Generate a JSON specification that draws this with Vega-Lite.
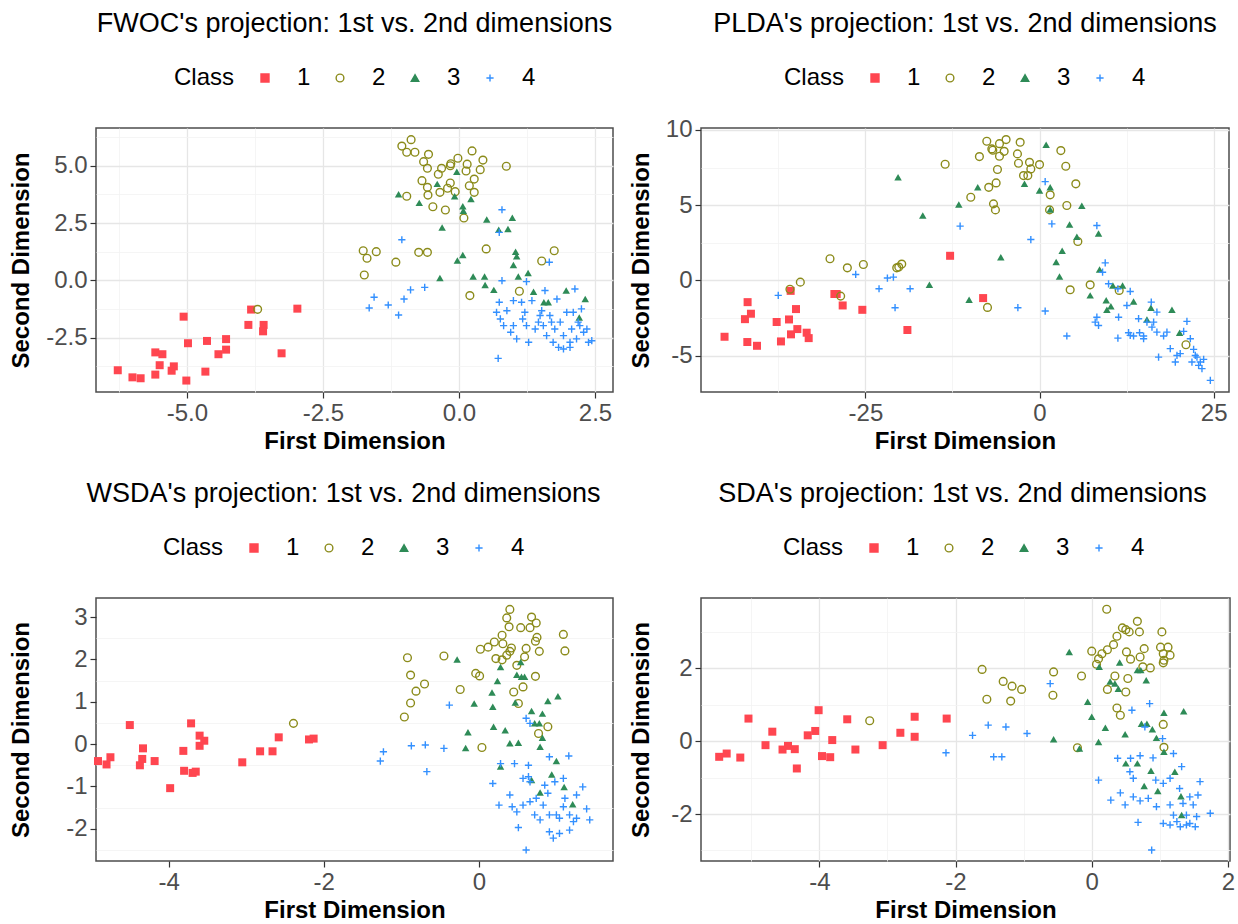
{
  "$schema": "https://vega.github.io/schema/vega-lite/v6.json",
  "background": "white",
  "padding": {"left": 8, "top": 9, "right": 0, "bottom": 0},
  "columns": 2,
  "spacing": {"row": 25, "column": 14},
  "config": {
    "font": "Liberation Sans",
    "view": {"stroke": "#4d4d4d", "strokeWidth": 1.5},
    "title": {"fontSize": 27, "fontWeight": "normal", "color": "#000000", "anchor": "middle", "frame": "group", "offset": 28},
    "axis": {"labelFontSize": 24, "labelColor": "#4d4d4d", "titleFontSize": 24, "titleFontWeight": "bold", "titleColor": "#000000", "tickColor": "#333333", "tickSize": 6, "tickWidth": 1.2, "domain": false, "labelPadding": 3, "labelFlush": false, "labelOverlap": false},
    "axisX": {"titlePadding": 4},
    "axisY": {"titlePadding": 8},
    "legend": {"direction": "horizontal", "titleOrient": "left", "titleFontSize": 24, "titleFontWeight": "normal", "titleColor": "#000000", "labelFontSize": 24, "labelColor": "#000000", "titlePadding": 18, "labelOffset": 20, "columnPadding": 17, "symbolSize": 60, "symbolStrokeWidth": 1.4}
  },
  "resolve": {
    "scale": {"color": "independent", "shape": "independent", "size": "independent"},
    "legend": {"color": "independent", "shape": "independent"}
  },
  "datasets": {
    "fwoc": [
      {"Class":1,"x":-6.27,"y":-3.93},{"Class":1,"x":-6.0,"y":-4.24},{"Class":1,"x":-5.85,"y":-4.28},{"Class":1,"x":-5.58,"y":-4.12},{"Class":1,"x":-5.58,"y":-3.15},{"Class":1,"x":-5.45,"y":-3.23},{"Class":1,"x":-5.5,"y":-3.71},{"Class":1,"x":-5.28,"y":-3.95},{"Class":1,"x":-5.24,"y":-3.76},{"Class":1,"x":-5.06,"y":-1.59},{"Class":1,"x":-4.98,"y":-2.75},{"Class":1,"x":-5.01,"y":-4.38},{"Class":1,"x":-4.66,"y":-3.99},{"Class":1,"x":-4.63,"y":-2.65},{"Class":1,"x":-4.42,"y":-3.23},{"Class":1,"x":-4.28,"y":-3.03},{"Class":1,"x":-4.28,"y":-2.57},{"Class":1,"x":-3.87,"y":-1.95},{"Class":1,"x":-3.82,"y":-1.28},{"Class":1,"x":-3.59,"y":-1.95},{"Class":1,"x":-3.6,"y":-2.23},{"Class":1,"x":-3.26,"y":-3.19},{"Class":1,"x":-2.97,"y":-1.24},
      {"Class":2,"x":-0.88,"y":6.14},{"Class":2,"x":-1.05,"y":5.86},{"Class":2,"x":-0.96,"y":5.59},{"Class":2,"x":-0.81,"y":5.59},{"Class":2,"x":-0.56,"y":5.5},{"Class":2,"x":-0.65,"y":5.18},{"Class":2,"x":-0.58,"y":4.89},{"Class":2,"x":-0.15,"y":5.09},{"Class":2,"x":-0.16,"y":5.0},{"Class":2,"x":-0.02,"y":5.33},{"Class":2,"x":0.15,"y":5.07},{"Class":2,"x":0.13,"y":4.77},{"Class":2,"x":0.24,"y":5.65},{"Class":2,"x":0.44,"y":5.25},{"Class":2,"x":0.39,"y":4.83},{"Class":2,"x":0.87,"y":4.98},{"Class":2,"x":-0.32,"y":4.89},{"Class":2,"x":-0.38,"y":4.63},{"Class":2,"x":-0.68,"y":4.35},{"Class":2,"x":-0.58,"y":4.06},{"Class":2,"x":-0.35,"y":3.84},{"Class":2,"x":-0.57,"y":3.72},{"Class":2,"x":-0.16,"y":4.25},{"Class":2,"x":-0.21,"y":4.02},{"Class":2,"x":-0.07,"y":3.87},{"Class":2,"x":0.19,"y":4.13},{"Class":2,"x":0.28,"y":4.42},{"Class":2,"x":0.28,"y":3.84},{"Class":2,"x":-0.96,"y":3.67},{"Class":2,"x":-0.48,"y":3.21},{"Class":2,"x":-0.25,"y":3.07},{"Class":2,"x":0.09,"y":2.72},{"Class":2,"x":-1.76,"y":1.29},{"Class":2,"x":-1.69,"y":0.96},{"Class":2,"x":-1.52,"y":1.25},{"Class":2,"x":-1.16,"y":0.79},{"Class":2,"x":-0.74,"y":1.22},{"Class":2,"x":-0.58,"y":1.22},{"Class":2,"x":0.5,"y":1.37},{"Class":2,"x":1.52,"y":0.84},{"Class":2,"x":1.75,"y":1.29},{"Class":2,"x":-1.74,"y":0.23},{"Class":2,"x":0.2,"y":-0.67},{"Class":2,"x":1.11,"y":-0.48},{"Class":2,"x":-3.7,"y":-1.27},
      {"Class":3,"x":-1.11,"y":3.76},{"Class":3,"x":-0.73,"y":3.38},{"Class":3,"x":-0.4,"y":4.21},{"Class":3,"x":-0.04,"y":4.74},{"Class":3,"x":-0.08,"y":3.67},{"Class":3,"x":0.22,"y":3.55},{"Class":3,"x":0.07,"y":3.23},{"Class":3,"x":0.08,"y":3.04},{"Class":3,"x":-0.31,"y":2.3},{"Class":3,"x":0.51,"y":2.65},{"Class":3,"x":0.98,"y":2.73},{"Class":3,"x":0.73,"y":2.21},{"Class":3,"x":0.9,"y":2.24},{"Class":3,"x":0.07,"y":1.1},{"Class":3,"x":-0.03,"y":0.86},{"Class":3,"x":-0.35,"y":0.1},{"Class":3,"x":0.26,"y":0.16},{"Class":3,"x":0.47,"y":0.16},{"Class":3,"x":0.48,"y":-0.21},{"Class":3,"x":0.64,"y":-0.42},{"Class":3,"x":1.04,"y":1.25},{"Class":3,"x":1.06,"y":1.05},{"Class":3,"x":1.0,"y":0.67},{"Class":3,"x":1.09,"y":0.16},{"Class":3,"x":1.27,"y":0.32},{"Class":3,"x":1.37,"y":-0.5},{"Class":3,"x":1.56,"y":-0.96},{"Class":3,"x":1.64,"y":-0.96},{"Class":3,"x":1.97,"y":-0.45},{"Class":3,"x":2.32,"y":-0.82},{"Class":3,"x":2.21,"y":-1.63},
      {"Class":4,"x":0.79,"y":3.08},{"Class":4,"x":-1.05,"y":1.77},{"Class":4,"x":0.74,"y":2.09},{"Class":4,"x":1.66,"y":0.79},{"Class":4,"x":-1.56,"y":-0.74},{"Class":4,"x":-1.65,"y":-1.21},{"Class":4,"x":-1.3,"y":-1.08},{"Class":4,"x":-1.11,"y":-1.52},{"Class":4,"x":-1.01,"y":-0.82},{"Class":4,"x":-0.89,"y":-0.42},{"Class":4,"x":-0.63,"y":-0.31},{"Class":4,"x":0.79,"y":-0.02},{"Class":4,"x":1.24,"y":-0.06},{"Class":4,"x":0.72,"y":-3.41},
      {"Class":4,"x":0.69,"y":-1.4},{"Class":4,"x":0.74,"y":-0.96},{"Class":4,"x":0.82,"y":-1.98},{"Class":4,"x":0.88,"y":-1.33},{"Class":4,"x":0.95,"y":-2.27},{"Class":4,"x":1.0,"y":-0.89},{"Class":4,"x":1.06,"y":-2.56},{"Class":4,"x":1.15,"y":-0.96},{"Class":4,"x":1.17,"y":-1.69},{"Class":4,"x":1.21,"y":-1.4},{"Class":4,"x":1.28,"y":-2.71},{"Class":4,"x":1.34,"y":-0.89},{"Class":4,"x":1.4,"y":-2.13},{"Class":4,"x":1.46,"y":-1.83},{"Class":4,"x":1.52,"y":-1.33},{"Class":4,"x":1.58,"y":-0.45},{"Class":4,"x":1.61,"y":-2.42},{"Class":4,"x":1.67,"y":-1.54},{"Class":4,"x":1.73,"y":-2.71},{"Class":4,"x":1.76,"y":-2.13},{"Class":4,"x":1.8,"y":-0.82},{"Class":4,"x":1.83,"y":-2.93},{"Class":4,"x":1.86,"y":-1.83},{"Class":4,"x":1.92,"y":-2.42},{"Class":4,"x":1.98,"y":-1.4},{"Class":4,"x":2.04,"y":-2.71},{"Class":4,"x":2.07,"y":-2.13},{"Class":4,"x":2.1,"y":-1.4},{"Class":4,"x":2.13,"y":-0.38},{"Class":4,"x":2.16,"y":-2.56},{"Class":4,"x":2.22,"y":-1.98},{"Class":4,"x":2.25,"y":-1.25},{"Class":4,"x":2.29,"y":-2.27},{"Class":4,"x":2.35,"y":-2.13},{"Class":4,"x":2.38,"y":-2.71},{"Class":4,"x":2.44,"y":-2.64},{"Class":4,"x":1.92,"y":-3.0},{"Class":4,"x":2.04,"y":-2.93},{"Class":4,"x":1.49,"y":-1.54},{"Class":4,"x":1.55,"y":-1.98},{"Class":4,"x":1.24,"y":-1.98},{"Class":4,"x":1.0,"y":-1.98},{"Class":4,"x":1.7,"y":-1.83},{"Class":4,"x":2.19,"y":-1.83},{"Class":4,"x":0.76,"y":-1.69}
    ],
    "plda": [
      {"Class":1,"x":-45.22,"y":-3.74},{"Class":1,"x":-41.91,"y":-1.44},{"Class":1,"x":-41.43,"y":-2.21},{"Class":1,"x":-42.29,"y":-2.57},{"Class":1,"x":-41.95,"y":-4.09},{"Class":1,"x":-40.56,"y":-4.34},{"Class":1,"x":-37.74,"y":-2.76},{"Class":1,"x":-35.97,"y":-2.59},{"Class":1,"x":-34.96,"y":-1.9},{"Class":1,"x":-35.73,"y":-0.69},{"Class":1,"x":-37.12,"y":-4.05},{"Class":1,"x":-35.68,"y":-3.58},{"Class":1,"x":-34.77,"y":-3.23},{"Class":1,"x":-33.43,"y":-3.47},{"Class":1,"x":-33.14,"y":-3.83},{"Class":1,"x":-29.45,"y":-0.9},{"Class":1,"x":-29.12,"y":-0.9},{"Class":1,"x":-28.26,"y":-1.66},{"Class":1,"x":-25.44,"y":-1.95},{"Class":1,"x":-18.97,"y":-3.29},{"Class":1,"x":-12.84,"y":1.64},{"Class":1,"x":-8.1,"y":-1.17},
      {"Class":2,"x":-13.55,"y":7.72},{"Class":2,"x":-30.08,"y":1.44},{"Class":2,"x":-27.59,"y":0.84},{"Class":2,"x":-25.29,"y":1.06},{"Class":2,"x":-35.83,"y":-0.58},{"Class":2,"x":-34.34,"y":-0.11},{"Class":2,"x":-28.55,"y":-1.04},{"Class":2,"x":-20.5,"y":0.84},{"Class":2,"x":-19.78,"y":1.09},{"Class":2,"x":-20.21,"y":0.89},{"Class":2,"x":-7.57,"y":9.25},{"Class":2,"x":-6.85,"y":8.74},{"Class":2,"x":-5.75,"y":9.09},{"Class":2,"x":-4.8,"y":9.36},{"Class":2,"x":-2.78,"y":9.18},{"Class":2,"x":-5.08,"y":8.58},{"Class":2,"x":-5.75,"y":8.25},{"Class":2,"x":-8.63,"y":8.23},{"Class":2,"x":-6.71,"y":8.65},{"Class":2,"x":-3.17,"y":8.41},{"Class":2,"x":-3.02,"y":7.79},{"Class":2,"x":-1.44,"y":7.85},{"Class":2,"x":0.0,"y":7.7},{"Class":2,"x":-1.25,"y":7.41},{"Class":2,"x":-2.3,"y":6.97},{"Class":2,"x":-1.68,"y":6.97},{"Class":2,"x":-6.04,"y":7.37},{"Class":2,"x":-6.23,"y":6.48},{"Class":2,"x":-7.29,"y":6.19},{"Class":2,"x":-9.87,"y":5.53},{"Class":2,"x":-6.61,"y":5.09},{"Class":2,"x":-6.33,"y":4.69},{"Class":2,"x":1.53,"y":5.69},{"Class":2,"x":3.06,"y":8.63},{"Class":2,"x":3.77,"y":7.59},{"Class":2,"x":5.21,"y":6.42},{"Class":2,"x":3.92,"y":4.98},{"Class":2,"x":5.5,"y":2.59},{"Class":2,"x":7.27,"y":-0.29},{"Class":2,"x":4.4,"y":-0.62},{"Class":2,"x":-7.47,"y":-1.79},{"Class":2,"x":1.44,"y":4.69},{"Class":2,"x":11.44,"y":-0.66},{"Class":2,"x":21.02,"y":-4.27},
      {"Class":3,"x":-20.31,"y":6.86},{"Class":3,"x":-16.76,"y":4.31},{"Class":3,"x":-11.59,"y":5.04},{"Class":3,"x":-15.81,"y":-0.29},{"Class":3,"x":0.95,"y":9.02},{"Class":3,"x":-8.87,"y":6.19},{"Class":3,"x":-2.16,"y":6.42},{"Class":3,"x":0.0,"y":5.97},{"Class":3,"x":1.53,"y":6.19},{"Class":3,"x":1.53,"y":4.71},{"Class":3,"x":6.07,"y":4.96},{"Class":3,"x":4.31,"y":3.72},{"Class":3,"x":5.36,"y":2.9},{"Class":3,"x":8.47,"y":3.12},{"Class":3,"x":-5.56,"y":1.55},{"Class":3,"x":3.25,"y":1.97},{"Class":3,"x":2.39,"y":1.22},{"Class":3,"x":2.87,"y":0.27},{"Class":3,"x":8.62,"y":0.73},{"Class":3,"x":7.27,"y":-0.99},{"Class":3,"x":-10.11,"y":-1.28},{"Class":3,"x":10.53,"y":-0.33},{"Class":3,"x":11.92,"y":-0.33},{"Class":3,"x":9.57,"y":-1.32},{"Class":3,"x":9.67,"y":-1.95},{"Class":3,"x":10.24,"y":-1.72},{"Class":3,"x":13.5,"y":-1.39},{"Class":3,"x":15.99,"y":-1.81},{"Class":3,"x":15.42,"y":-2.59},{"Class":3,"x":19.01,"y":-1.95},{"Class":3,"x":20.11,"y":-3.47},
      {"Class":4,"x":-37.51,"y":-0.99},{"Class":4,"x":-26.39,"y":0.4},{"Class":4,"x":-23.04,"y":-0.55},{"Class":4,"x":-21.84,"y":0.16},{"Class":4,"x":-20.98,"y":0.22},{"Class":4,"x":-20.74,"y":-1.81},{"Class":4,"x":-18.58,"y":-0.55},{"Class":4,"x":-11.4,"y":3.61},{"Class":4,"x":0.81,"y":6.57},{"Class":4,"x":1.77,"y":3.76},{"Class":4,"x":-1.25,"y":2.72},{"Class":4,"x":-3.11,"y":-1.81},{"Class":4,"x":0.81,"y":-2.03},{"Class":4,"x":3.92,"y":-3.69},{"Class":4,"x":8.23,"y":3.65},{"Class":4,"x":9.43,"y":1.17},{"Class":4,"x":9.05,"y":0.55},{"Class":4,"x":9.91,"y":-0.22},{"Class":4,"x":11.25,"y":-0.55},{"Class":4,"x":13.02,"y":-0.73},{"Class":4,"x":12.54,"y":-1.66},{"Class":4,"x":11.35,"y":-2.44},{"Class":4,"x":8.23,"y":-2.44},{"Class":4,"x":7.99,"y":-2.77},{"Class":4,"x":8.47,"y":-2.99},{"Class":4,"x":11.25,"y":-3.83},{"Class":4,"x":12.78,"y":-3.47},{"Class":4,"x":13.5,"y":-3.69},{"Class":4,"x":14.36,"y":-3.47},{"Class":4,"x":14.94,"y":-3.69},{"Class":4,"x":14.22,"y":-2.54},{"Class":4,"x":16.04,"y":-1.44},{"Class":4,"x":16.85,"y":-2.1},{"Class":4,"x":16.14,"y":-3.1},{"Class":4,"x":16.85,"y":-3.43},{"Class":4,"x":17.81,"y":-3.69},{"Class":4,"x":18.77,"y":-4.53},{"Class":4,"x":17.09,"y":-5.09},{"Class":4,"x":19.73,"y":-4.98},{"Class":4,"x":19.49,"y":-5.42},{"Class":4,"x":21.16,"y":-2.72},{"Class":4,"x":21.65,"y":-3.87},{"Class":4,"x":20.69,"y":-3.38},{"Class":4,"x":22.12,"y":-4.58},{"Class":4,"x":22.6,"y":-5.09},{"Class":4,"x":23.08,"y":-5.42},{"Class":4,"x":23.56,"y":-5.24},{"Class":4,"x":23.32,"y":-5.86},{"Class":4,"x":22.36,"y":-4.98},{"Class":4,"x":24.52,"y":-6.64},{"Class":4,"x":16.38,"y":-2.77},{"Class":4,"x":15.42,"y":-2.77},{"Class":4,"x":13.02,"y":-3.65},{"Class":4,"x":14.94,"y":-3.87},{"Class":4,"x":18.29,"y":-3.43},{"Class":4,"x":20.2,"y":-4.86},{"Class":4,"x":21.88,"y":-5.42},{"Class":4,"x":22.84,"y":-5.64}
    ],
    "wsda": [
      {"Class":1,"x":-4.91,"y":-0.4},{"Class":1,"x":-4.8,"y":-0.48},{"Class":1,"x":-4.75,"y":-0.31},{"Class":1,"x":-4.5,"y":0.45},{"Class":1,"x":-4.37,"y":-0.5},{"Class":1,"x":-4.34,"y":-0.35},{"Class":1,"x":-4.33,"y":-0.1},{"Class":1,"x":-4.18,"y":-0.4},{"Class":1,"x":-3.98,"y":-1.04},{"Class":1,"x":-3.81,"y":-0.16},{"Class":1,"x":-3.8,"y":-0.63},{"Class":1,"x":-3.71,"y":0.49},{"Class":1,"x":-3.69,"y":-0.68},{"Class":1,"x":-3.65,"y":-0.65},{"Class":1,"x":-3.6,"y":0.2},{"Class":1,"x":-3.6,"y":-0.04},{"Class":1,"x":-3.54,"y":0.08},{"Class":1,"x":-3.05,"y":-0.43},{"Class":1,"x":-2.82,"y":-0.17},{"Class":1,"x":-2.66,"y":-0.17},{"Class":1,"x":-2.58,"y":0.16},{"Class":1,"x":-2.19,"y":0.11},{"Class":1,"x":-2.13,"y":0.13},
      {"Class":2,"x":-2.39,"y":0.49},{"Class":2,"x":0.4,"y":3.18},{"Class":2,"x":0.36,"y":2.98},{"Class":2,"x":0.68,"y":3.0},{"Class":2,"x":0.74,"y":2.86},{"Class":2,"x":0.39,"y":2.77},{"Class":2,"x":0.54,"y":2.75},{"Class":2,"x":0.66,"y":2.75},{"Class":2,"x":0.3,"y":2.57},{"Class":2,"x":0.2,"y":2.41},{"Class":2,"x":0.31,"y":2.37},{"Class":2,"x":0.12,"y":2.29},{"Class":2,"x":0.02,"y":2.24},{"Class":2,"x":0.42,"y":2.27},{"Class":2,"x":0.4,"y":2.19},{"Class":2,"x":0.61,"y":2.26},{"Class":2,"x":0.36,"y":2.1},{"Class":2,"x":0.22,"y":2.02},{"Class":2,"x":0.3,"y":1.99},{"Class":2,"x":0.59,"y":2.06},{"Class":2,"x":0.78,"y":2.19},{"Class":2,"x":0.75,"y":2.52},{"Class":2,"x":0.73,"y":2.43},{"Class":2,"x":1.09,"y":2.59},{"Class":2,"x":1.11,"y":2.2},{"Class":2,"x":0.49,"y":1.86},{"Class":2,"x":-0.92,"y":2.04},{"Class":2,"x":-0.45,"y":2.08},{"Class":2,"x":-0.04,"y":1.67},{"Class":2,"x":0.01,"y":1.61},{"Class":2,"x":0.73,"y":1.6},{"Class":2,"x":0.57,"y":1.35},{"Class":2,"x":0.45,"y":1.23},{"Class":2,"x":0.51,"y":0.96},{"Class":2,"x":-0.88,"y":1.63},{"Class":2,"x":-0.7,"y":1.42},{"Class":2,"x":-0.81,"y":1.25},{"Class":2,"x":-0.88,"y":0.97},{"Class":2,"x":-0.96,"y":0.64},{"Class":2,"x":-0.24,"y":1.29},{"Class":2,"x":0.89,"y":0.41},{"Class":2,"x":0.77,"y":0.25},{"Class":2,"x":0.04,"y":-0.08},
      {"Class":3,"x":-0.28,"y":2.0},{"Class":3,"x":0.28,"y":1.82},{"Class":3,"x":0.49,"y":1.64},{"Class":3,"x":0.55,"y":1.59},{"Class":3,"x":0.59,"y":1.59},{"Class":3,"x":0.54,"y":1.94},{"Class":3,"x":0.24,"y":1.49},{"Class":3,"x":0.17,"y":1.22},{"Class":3,"x":-0.06,"y":0.96},{"Class":3,"x":0.18,"y":0.88},{"Class":3,"x":0.47,"y":0.98},{"Class":3,"x":0.68,"y":0.78},{"Class":3,"x":0.82,"y":0.72},{"Class":3,"x":0.89,"y":1.02},{"Class":3,"x":1.02,"y":1.13},{"Class":3,"x":0.72,"y":0.49},{"Class":3,"x":0.78,"y":0.49},{"Class":3,"x":-0.14,"y":0.28},{"Class":3,"x":-0.17,"y":-0.09},{"Class":3,"x":0.19,"y":0.41},{"Class":3,"x":0.34,"y":0.33},{"Class":3,"x":0.4,"y":0.02},{"Class":3,"x":0.51,"y":0.03},{"Class":3,"x":0.79,"y":-0.06},{"Class":3,"x":0.82,"y":0.15},{"Class":3,"x":1.0,"y":-0.4},{"Class":3,"x":0.28,"y":-0.53},{"Class":3,"x":0.94,"y":-0.72},{"Class":3,"x":0.68,"y":-0.85},{"Class":3,"x":1.1,"y":-1.01},{"Class":3,"x":0.79,"y":-1.14},{"Class":3,"x":1.21,"y":-1.42},
      {"Class":4,"x":-0.38,"y":0.92},{"Class":4,"x":-1.23,"y":-0.18},{"Class":4,"x":-1.27,"y":-0.4},{"Class":4,"x":-0.87,"y":-0.04},{"Class":4,"x":-0.69,"y":-0.02},{"Class":4,"x":-0.45,"y":-0.1},{"Class":4,"x":-0.67,"y":-0.65},{"Class":4,"x":0.61,"y":0.61},{"Class":4,"x":0.66,"y":0.49},{"Class":4,"x":0.91,"y":-0.3},{"Class":4,"x":1.16,"y":-0.28},{"Class":4,"x":0.28,"y":-0.46},{"Class":4,"x":0.46,"y":-0.46},{"Class":4,"x":0.64,"y":-0.5},{"Class":4,"x":0.18,"y":-0.93},{"Class":4,"x":0.57,"y":-0.81},{"Class":4,"x":0.64,"y":-0.77},{"Class":4,"x":0.66,"y":-0.89},{"Class":4,"x":0.4,"y":-1.2},{"Class":4,"x":0.26,"y":-1.44},{"Class":4,"x":0.43,"y":-1.48},{"Class":4,"x":0.49,"y":-1.6},{"Class":4,"x":0.57,"y":-1.44},{"Class":4,"x":0.74,"y":-1.28},{"Class":4,"x":0.85,"y":-0.97},{"Class":4,"x":0.98,"y":-0.89},{"Class":4,"x":1.09,"y":-0.81},{"Class":4,"x":1.34,"y":-1.01},{"Class":4,"x":0.83,"y":-1.44},{"Class":4,"x":0.72,"y":-1.67},{"Class":4,"x":0.79,"y":-1.79},{"Class":4,"x":0.91,"y":-1.67},{"Class":4,"x":1.0,"y":-1.67},{"Class":4,"x":1.09,"y":-1.48},{"Class":4,"x":1.17,"y":-1.67},{"Class":4,"x":1.26,"y":-1.75},{"Class":4,"x":1.39,"y":-1.53},{"Class":4,"x":1.43,"y":-1.79},{"Class":4,"x":0.51,"y":-1.97},{"Class":4,"x":0.91,"y":-2.07},{"Class":4,"x":1.04,"y":-2.11},{"Class":4,"x":1.17,"y":-2.03},{"Class":4,"x":1.22,"y":-1.83},{"Class":4,"x":0.96,"y":-2.22},{"Class":4,"x":0.61,"y":-2.5},{"Class":4,"x":1.11,"y":-1.28},{"Class":4,"x":1.26,"y":-1.2},{"Class":4,"x":1.04,"y":-1.75},{"Class":4,"x":0.66,"y":-1.36},{"Class":4,"x":0.89,"y":-1.16}
    ],
    "sda": [
      {"Class":1,"x":-5.47,"y":-0.43},{"Class":1,"x":-5.36,"y":-0.34},{"Class":1,"x":-5.16,"y":-0.45},{"Class":1,"x":-5.04,"y":0.62},{"Class":1,"x":-4.79,"y":-0.11},{"Class":1,"x":-4.69,"y":0.26},{"Class":1,"x":-4.54,"y":-0.23},{"Class":1,"x":-4.46,"y":-0.13},{"Class":1,"x":-4.36,"y":-0.22},{"Class":1,"x":-4.33,"y":-0.75},{"Class":1,"x":-4.17,"y":0.16},{"Class":1,"x":-4.06,"y":0.28},{"Class":1,"x":-4.01,"y":0.85},{"Class":1,"x":-3.96,"y":-0.41},{"Class":1,"x":-3.84,"y":-0.44},{"Class":1,"x":-3.81,"y":0.03},{"Class":1,"x":-3.59,"y":0.6},{"Class":1,"x":-3.47,"y":-0.23},{"Class":1,"x":-3.07,"y":-0.11},{"Class":1,"x":-2.81,"y":0.23},{"Class":1,"x":-2.6,"y":0.67},{"Class":1,"x":-2.6,"y":0.12},{"Class":1,"x":-2.13,"y":0.62},
      {"Class":2,"x":-3.26,"y":0.56},{"Class":2,"x":0.22,"y":3.62},{"Class":2,"x":0.67,"y":3.29},{"Class":2,"x":0.45,"y":3.11},{"Class":2,"x":0.55,"y":3.0},{"Class":2,"x":0.5,"y":3.06},{"Class":2,"x":0.7,"y":3.0},{"Class":2,"x":0.37,"y":2.88},{"Class":2,"x":0.32,"y":2.65},{"Class":2,"x":0.23,"y":2.51},{"Class":2,"x":0.15,"y":2.4},{"Class":2,"x":0.0,"y":2.47},{"Class":2,"x":0.1,"y":2.26},{"Class":2,"x":0.07,"y":2.11},{"Class":2,"x":0.51,"y":2.45},{"Class":2,"x":0.57,"y":2.25},{"Class":2,"x":0.71,"y":2.31},{"Class":2,"x":0.77,"y":2.54},{"Class":2,"x":1.03,"y":3.0},{"Class":2,"x":1.01,"y":2.58},{"Class":2,"x":1.12,"y":2.58},{"Class":2,"x":1.15,"y":2.36},{"Class":2,"x":1.05,"y":2.4},{"Class":2,"x":1.06,"y":2.22},{"Class":2,"x":1.05,"y":2.15},{"Class":2,"x":0.86,"y":2.01},{"Class":2,"x":0.75,"y":2.04},{"Class":2,"x":0.34,"y":1.79},{"Class":2,"x":0.53,"y":1.72},{"Class":2,"x":0.23,"y":1.42},{"Class":2,"x":0.5,"y":1.35},{"Class":2,"x":0.37,"y":0.91},{"Class":2,"x":0.42,"y":0.71},{"Class":2,"x":1.05,"y":0.46},{"Class":2,"x":1.06,"y":-0.17},{"Class":2,"x":-0.21,"y":-0.18},{"Class":2,"x":-1.61,"y":1.97},{"Class":2,"x":-0.56,"y":1.9},{"Class":2,"x":-0.15,"y":1.79},{"Class":2,"x":-1.3,"y":1.64},{"Class":2,"x":-1.17,"y":1.51},{"Class":2,"x":-1.03,"y":1.42},{"Class":2,"x":-1.54,"y":1.15},{"Class":2,"x":-1.19,"y":1.1},{"Class":2,"x":-0.57,"y":1.26},
      {"Class":3,"x":-0.33,"y":2.45},{"Class":3,"x":0.11,"y":2.04},{"Class":3,"x":0.41,"y":2.16},{"Class":3,"x":0.67,"y":1.95},{"Class":3,"x":0.72,"y":1.95},{"Class":3,"x":0.27,"y":1.64},{"Class":3,"x":0.34,"y":1.58},{"Class":3,"x":0.8,"y":1.67},{"Class":3,"x":0.39,"y":1.44},{"Class":3,"x":-0.06,"y":1.08},{"Class":3,"x":0.0,"y":0.67},{"Class":3,"x":0.2,"y":0.37},{"Class":3,"x":0.49,"y":0.19},{"Class":3,"x":0.73,"y":0.48},{"Class":3,"x":0.81,"y":0.48},{"Class":3,"x":0.89,"y":0.33},{"Class":3,"x":0.95,"y":0.09},{"Class":3,"x":1.06,"y":0.78},{"Class":3,"x":1.35,"y":0.82},{"Class":3,"x":-0.56,"y":0.05},{"Class":3,"x":-0.18,"y":-0.2},{"Class":3,"x":0.1,"y":-0.02},{"Class":3,"x":1.06,"y":-0.29},{"Class":3,"x":0.5,"y":-0.61},{"Class":3,"x":0.67,"y":-0.61},{"Class":3,"x":0.87,"y":-0.81},{"Class":3,"x":1.22,"y":-0.84},{"Class":3,"x":0.77,"y":-1.23},{"Class":3,"x":0.97,"y":-1.37},{"Class":3,"x":1.31,"y":-1.51},{"Class":3,"x":1.32,"y":-2.03},
      {"Class":4,"x":-2.14,"y":-0.32},{"Class":4,"x":-1.75,"y":0.16},{"Class":4,"x":-1.52,"y":0.44},{"Class":4,"x":-1.26,"y":0.39},{"Class":4,"x":-0.95,"y":0.21},{"Class":4,"x":-1.44,"y":-0.43},{"Class":4,"x":-1.32,"y":-0.43},{"Class":4,"x":-0.61,"y":1.58},{"Class":4,"x":0.59,"y":0.85},{"Class":4,"x":0.85,"y":1.03},{"Class":4,"x":0.78,"y":0.39},{"Class":4,"x":1.04,"y":0.07},{"Class":4,"x":0.38,"y":-0.47},{"Class":4,"x":0.57,"y":-0.47},{"Class":4,"x":0.71,"y":-0.4},{"Class":4,"x":0.9,"y":-0.46},{"Class":4,"x":1.2,"y":-0.34},{"Class":4,"x":1.32,"y":-0.7},{"Class":4,"x":0.56,"y":-0.84},{"Class":4,"x":0.61,"y":-1.02},{"Class":4,"x":0.1,"y":-1.07},{"Class":4,"x":0.42,"y":-1.42},{"Class":4,"x":0.28,"y":-1.62},{"Class":4,"x":0.49,"y":-1.75},{"Class":4,"x":0.61,"y":-1.53},{"Class":4,"x":0.71,"y":-1.64},{"Class":4,"x":0.83,"y":-1.57},{"Class":4,"x":0.95,"y":-1.8},{"Class":4,"x":0.94,"y":-1.07},{"Class":4,"x":1.05,"y":-1.16},{"Class":4,"x":1.15,"y":-1.02},{"Class":4,"x":1.29,"y":-1.3},{"Class":4,"x":1.15,"y":-1.75},{"Class":4,"x":1.34,"y":-1.71},{"Class":4,"x":1.44,"y":-1.53},{"Class":4,"x":1.59,"y":-1.11},{"Class":4,"x":1.56,"y":-1.48},{"Class":4,"x":1.49,"y":-1.75},{"Class":4,"x":1.74,"y":-1.98},{"Class":4,"x":1.54,"y":-2.07},{"Class":4,"x":1.39,"y":-2.03},{"Class":4,"x":1.2,"y":-2.03},{"Class":4,"x":1.05,"y":-2.26},{"Class":4,"x":1.25,"y":-2.21},{"Class":4,"x":1.44,"y":-2.26},{"Class":4,"x":1.52,"y":-2.35},{"Class":4,"x":0.68,"y":-2.23},{"Class":4,"x":0.88,"y":-2.99},{"Class":4,"x":1.3,"y":-2.35},{"Class":4,"x":1.15,"y":-2.3},{"Class":4,"x":1.39,"y":-2.3}
    ]
  },
  "concat": [
    {
      "width": 517, "height": 264,
      "title": "FWOC's projection: 1st vs. 2nd dimensions",
      "data": {"name": "fwoc"},
      "mark": {"type": "point", "filled": false, "opacity": 1,
        "fill": {"expr": "toNumber(datum.Class || datum.value) === 1 ? '#FF4650' : toNumber(datum.Class || datum.value) === 3 ? '#2E8B57' : 'transparent'"},
        "strokeWidth": {"expr": "toNumber(datum.Class || datum.value) % 2 === 1 ? 0 : 1.4"}},
      "encoding": {
        "x": {"field": "x", "type": "quantitative", "title": "First Dimension", "scale": {"domain": [-6.67, 2.83], "nice": false, "zero": false},
          "axis": {"values": [-6.25, -5, -3.75, -2.5, -1.25, 0, 1.25, 2.5], "format": ".1f", "labelOverlap": false,
            "labelExpr": "abs(datum.value / 1.25 % 2) === 1 ? '' : replace(datum.label, '\u2212', '-')",
            "tickOpacity": {"condition": {"test": "abs(datum.value / 1.25 % 2) === 1", "value": 0}, "value": 1},
            "gridColor": {"condition": {"test": "abs(datum.value / 1.25 % 2) === 1", "value": "#f2f2f2"}, "value": "#e6e6e6"},
            "gridWidth": {"condition": {"test": "abs(datum.value / 1.25 % 2) === 1", "value": 0.8}, "value": 1.3}}},
        "y": {"field": "y", "type": "quantitative", "title": "Second Dimension", "scale": {"domain": [-4.88, 6.65], "nice": false, "zero": false},
          "axis": {"values": [-3.75, -2.5, -1.25, 0, 1.25, 2.5, 3.75, 5, 6.25], "format": ".1f", "labelOverlap": false, "titleX": -63,
            "labelExpr": "abs(datum.value / 1.25 % 2) === 1 ? '' : replace(datum.label, '\u2212', '-')",
            "tickOpacity": {"condition": {"test": "abs(datum.value / 1.25 % 2) === 1", "value": 0}, "value": 1},
            "gridColor": {"condition": {"test": "abs(datum.value / 1.25 % 2) === 1", "value": "#f2f2f2"}, "value": "#e6e6e6"},
            "gridWidth": {"condition": {"test": "abs(datum.value / 1.25 % 2) === 1", "value": 0.8}, "value": 1.3}}},
        "color": {"field": "Class", "type": "nominal", "title": "Class", "scale": {"domain": [1, 2, 3, 4], "range": ["#FF4650", "#8B8B1A", "#2E8B57", "#3390FF"]},
          "legend": {"orient": "none", "legendX": 78, "legendY": -62,
            "encode": {"symbols": {"fill": {"condition": [{"test": "toNumber(datum.value) === 1", "value": "#FF4650"}, {"test": "toNumber(datum.value) === 3", "value": "#2E8B57"}], "value": "transparent"},
              "strokeWidth": {"condition": {"test": "toNumber(datum.value) % 2 === 1", "value": 0}, "value": 1.4}}}}},
        "shape": {"field": "Class", "type": "nominal", "title": "Class", "scale": {"domain": [1, 2, 3, 4], "range": ["square", "circle", "triangle-up", "M-1,0L1,0M0,-1L0,1"]},
          "legend": {"orient": "none", "legendX": 78, "legendY": -62}},
        "size": {"field": "Class", "type": "nominal", "scale": {"domain": [1, 2, 3, 4], "range": [64, 52, 90, 121]}, "legend": null}
      }
    },
    {
      "width": 528, "height": 264,
      "title": "PLDA's projection: 1st vs. 2nd dimensions",
      "data": {"name": "plda"},
      "mark": {"type": "point", "filled": false, "opacity": 1,
        "fill": {"expr": "toNumber(datum.Class || datum.value) === 1 ? '#FF4650' : toNumber(datum.Class || datum.value) === 3 ? '#2E8B57' : 'transparent'"},
        "strokeWidth": {"expr": "toNumber(datum.Class || datum.value) % 2 === 1 ? 0 : 1.4"}},
      "encoding": {
        "x": {"field": "x", "type": "quantitative", "title": "First Dimension", "scale": {"domain": [-48.6, 27.2], "nice": false, "zero": false},
          "axis": {"values": [-37.5, -25, -12.5, 0, 12.5, 25], "format": "d", "labelOverlap": false,
            "labelExpr": "abs(datum.value / 12.5 % 2) === 1 ? '' : replace(datum.label, '\u2212', '-')",
            "tickOpacity": {"condition": {"test": "abs(datum.value / 12.5 % 2) === 1", "value": 0}, "value": 1},
            "gridColor": {"condition": {"test": "abs(datum.value / 12.5 % 2) === 1", "value": "#f2f2f2"}, "value": "#e6e6e6"},
            "gridWidth": {"condition": {"test": "abs(datum.value / 12.5 % 2) === 1", "value": 0.8}, "value": 1.3}}},
        "y": {"field": "y", "type": "quantitative", "title": "Second Dimension", "scale": {"domain": [-7.41, 10.13], "nice": false, "zero": false},
          "axis": {"values": [-5, -2.5, 0, 2.5, 5, 7.5, 10], "format": "d", "labelOverlap": false, "titleX": -48,
            "labelExpr": "abs(datum.value / 2.5 % 2) === 1 ? '' : replace(datum.label, '\u2212', '-')",
            "tickOpacity": {"condition": {"test": "abs(datum.value / 2.5 % 2) === 1", "value": 0}, "value": 1},
            "gridColor": {"condition": {"test": "abs(datum.value / 2.5 % 2) === 1", "value": "#f2f2f2"}, "value": "#e6e6e6"},
            "gridWidth": {"condition": {"test": "abs(datum.value / 2.5 % 2) === 1", "value": 0.8}, "value": 1.3}}},
        "color": {"field": "Class", "type": "nominal", "title": "Class", "scale": {"domain": [1, 2, 3, 4], "range": ["#FF4650", "#8B8B1A", "#2E8B57", "#3390FF"]},
          "legend": {"orient": "none", "legendX": 83, "legendY": -62,
            "encode": {"symbols": {"fill": {"condition": [{"test": "toNumber(datum.value) === 1", "value": "#FF4650"}, {"test": "toNumber(datum.value) === 3", "value": "#2E8B57"}], "value": "transparent"},
              "strokeWidth": {"condition": {"test": "toNumber(datum.value) % 2 === 1", "value": 0}, "value": 1.4}}}}},
        "shape": {"field": "Class", "type": "nominal", "title": "Class", "scale": {"domain": [1, 2, 3, 4], "range": ["square", "circle", "triangle-up", "M-1,0L1,0M0,-1L0,1"]},
          "legend": {"orient": "none", "legendX": 83, "legendY": -62}},
        "size": {"field": "Class", "type": "nominal", "scale": {"domain": [1, 2, 3, 4], "range": [64, 52, 90, 121]}, "legend": null}
      }
    },
    {
      "width": 517, "height": 263,
      "title": {"text": "WSDA's projection: 1st vs. 2nd dimensions", "dx": -11},
      "data": {"name": "wsda"},
      "resolve": {"axis": {"x": "independent", "y": "independent"}},
      "layer": [
        {
          "mark": {"type": "point", "opacity": 0},
          "encoding": {
            "x": {"field": "x", "type": "quantitative", "scale": {"domain": [-4.936, 1.73], "nice": false, "zero": false}, "axis": null},
            "y": {"field": "y", "type": "quantitative", "scale": {"domain": [-2.76, 3.45], "nice": false, "zero": false},
              "axis": {"orient": "left", "values": [-2.5, -1.5, -0.5, 0.5, 1.5, 2.5], "labels": false, "ticks": false, "domain": false, "title": null, "grid": true, "gridColor": "#f2f2f2", "gridWidth": 0.8, "maxExtent": 0, "minExtent": 0}}
          }
        },
        {
          "mark": {"type": "point", "filled": false, "opacity": 1,
            "fill": {"expr": "toNumber(datum.Class || datum.value) === 1 ? '#FF4650' : toNumber(datum.Class || datum.value) === 3 ? '#2E8B57' : 'transparent'"},
            "strokeWidth": {"expr": "toNumber(datum.Class || datum.value) % 2 === 1 ? 0 : 1.4"}},
          "encoding": {
            "x": {"field": "x", "type": "quantitative", "title": "First Dimension", "scale": {"domain": [-4.936, 1.73], "nice": false, "zero": false},
              "axis": {"values": [-4, -3, -2, -1, 0, 1], "format": "d", "labelOverlap": false,
                "labelExpr": "abs(datum.value % 2) === 1 ? '' : replace(datum.label, '\u2212', '-')",
                "tickOpacity": {"condition": {"test": "abs(datum.value % 2) === 1", "value": 0}, "value": 1},
                "gridColor": {"condition": {"test": "abs(datum.value % 2) === 1", "value": "#f2f2f2"}, "value": "#e6e6e6"},
                "gridWidth": {"condition": {"test": "abs(datum.value % 2) === 1", "value": 0.8}, "value": 1.3}}},
            "y": {"field": "y", "type": "quantitative", "title": "Second Dimension", "scale": {"domain": [-2.76, 3.45], "nice": false, "zero": false},
              "axis": {"orient": "left", "values": [-2, -1, 0, 1, 2, 3], "format": "d", "labelOverlap": false, "titleX": -63,
                "labelExpr": "replace(datum.label, '\u2212', '-')", "gridColor": "#e6e6e6", "gridWidth": 1.3}},
            "color": {"field": "Class", "type": "nominal", "title": "Class", "scale": {"domain": [1, 2, 3, 4], "range": ["#FF4650", "#8B8B1A", "#2E8B57", "#3390FF"]},
              "legend": {"orient": "none", "legendX": 67, "legendY": -62,
                "encode": {"symbols": {"fill": {"condition": [{"test": "toNumber(datum.value) === 1", "value": "#FF4650"}, {"test": "toNumber(datum.value) === 3", "value": "#2E8B57"}], "value": "transparent"},
                  "strokeWidth": {"condition": {"test": "toNumber(datum.value) % 2 === 1", "value": 0}, "value": 1.4}}}}},
            "shape": {"field": "Class", "type": "nominal", "title": "Class", "scale": {"domain": [1, 2, 3, 4], "range": ["square", "circle", "triangle-up", "M-1,0L1,0M0,-1L0,1"]},
              "legend": {"orient": "none", "legendX": 67, "legendY": -62}},
            "size": {"field": "Class", "type": "nominal", "scale": {"domain": [1, 2, 3, 4], "range": [64, 52, 90, 121]}, "legend": null}
          }
        }
      ]
    },
    {
      "width": 529, "height": 263,
      "title": {"text": "SDA's projection: 1st vs. 2nd dimensions", "dx": -3},
      "data": {"name": "sda"},
      "mark": {"type": "point", "filled": false, "opacity": 1,
        "fill": {"expr": "toNumber(datum.Class || datum.value) === 1 ? '#FF4650' : toNumber(datum.Class || datum.value) === 3 ? '#2E8B57' : 'transparent'"},
        "strokeWidth": {"expr": "toNumber(datum.Class || datum.value) % 2 === 1 ? 0 : 1.4"}},
      "encoding": {
        "x": {"field": "x", "type": "quantitative", "title": "First Dimension", "scale": {"domain": [-5.737, 2.03], "nice": false, "zero": false},
          "axis": {"values": [-5, -4, -3, -2, -1, 0, 1, 2], "format": "d", "labelOverlap": false,
            "labelExpr": "abs(datum.value % 2) === 1 ? '' : replace(datum.label, '\u2212', '-')",
            "tickOpacity": {"condition": {"test": "abs(datum.value % 2) === 1", "value": 0}, "value": 1},
            "gridColor": {"condition": {"test": "abs(datum.value % 2) === 1", "value": "#f2f2f2"}, "value": "#e6e6e6"},
            "gridWidth": {"condition": {"test": "abs(datum.value % 2) === 1", "value": 0.8}, "value": 1.3}}},
        "y": {"field": "y", "type": "quantitative", "title": "Second Dimension", "scale": {"domain": [-3.29, 3.93], "nice": false, "zero": false},
          "axis": {"values": [-3, -2, -1, 0, 1, 2, 3], "format": "d", "labelOverlap": false, "titleX": -48,
            "labelExpr": "abs(datum.value % 2) === 1 ? '' : replace(datum.label, '\u2212', '-')",
            "tickOpacity": {"condition": {"test": "abs(datum.value % 2) === 1", "value": 0}, "value": 1},
            "gridColor": {"condition": {"test": "abs(datum.value % 2) === 1", "value": "#f2f2f2"}, "value": "#e6e6e6"},
            "gridWidth": {"condition": {"test": "abs(datum.value % 2) === 1", "value": 0.8}, "value": 1.3}}},
        "color": {"field": "Class", "type": "nominal", "title": "Class", "scale": {"domain": [1, 2, 3, 4], "range": ["#FF4650", "#8B8B1A", "#2E8B57", "#3390FF"]},
          "legend": {"orient": "none", "legendX": 82, "legendY": -62,
            "encode": {"symbols": {"fill": {"condition": [{"test": "toNumber(datum.value) === 1", "value": "#FF4650"}, {"test": "toNumber(datum.value) === 3", "value": "#2E8B57"}], "value": "transparent"},
              "strokeWidth": {"condition": {"test": "toNumber(datum.value) % 2 === 1", "value": 0}, "value": 1.4}}}}},
        "shape": {"field": "Class", "type": "nominal", "title": "Class", "scale": {"domain": [1, 2, 3, 4], "range": ["square", "circle", "triangle-up", "M-1,0L1,0M0,-1L0,1"]},
          "legend": {"orient": "none", "legendX": 82, "legendY": -62}},
        "size": {"field": "Class", "type": "nominal", "scale": {"domain": [1, 2, 3, 4], "range": [64, 52, 90, 121]}, "legend": null}
      }
    }
  ]
}
